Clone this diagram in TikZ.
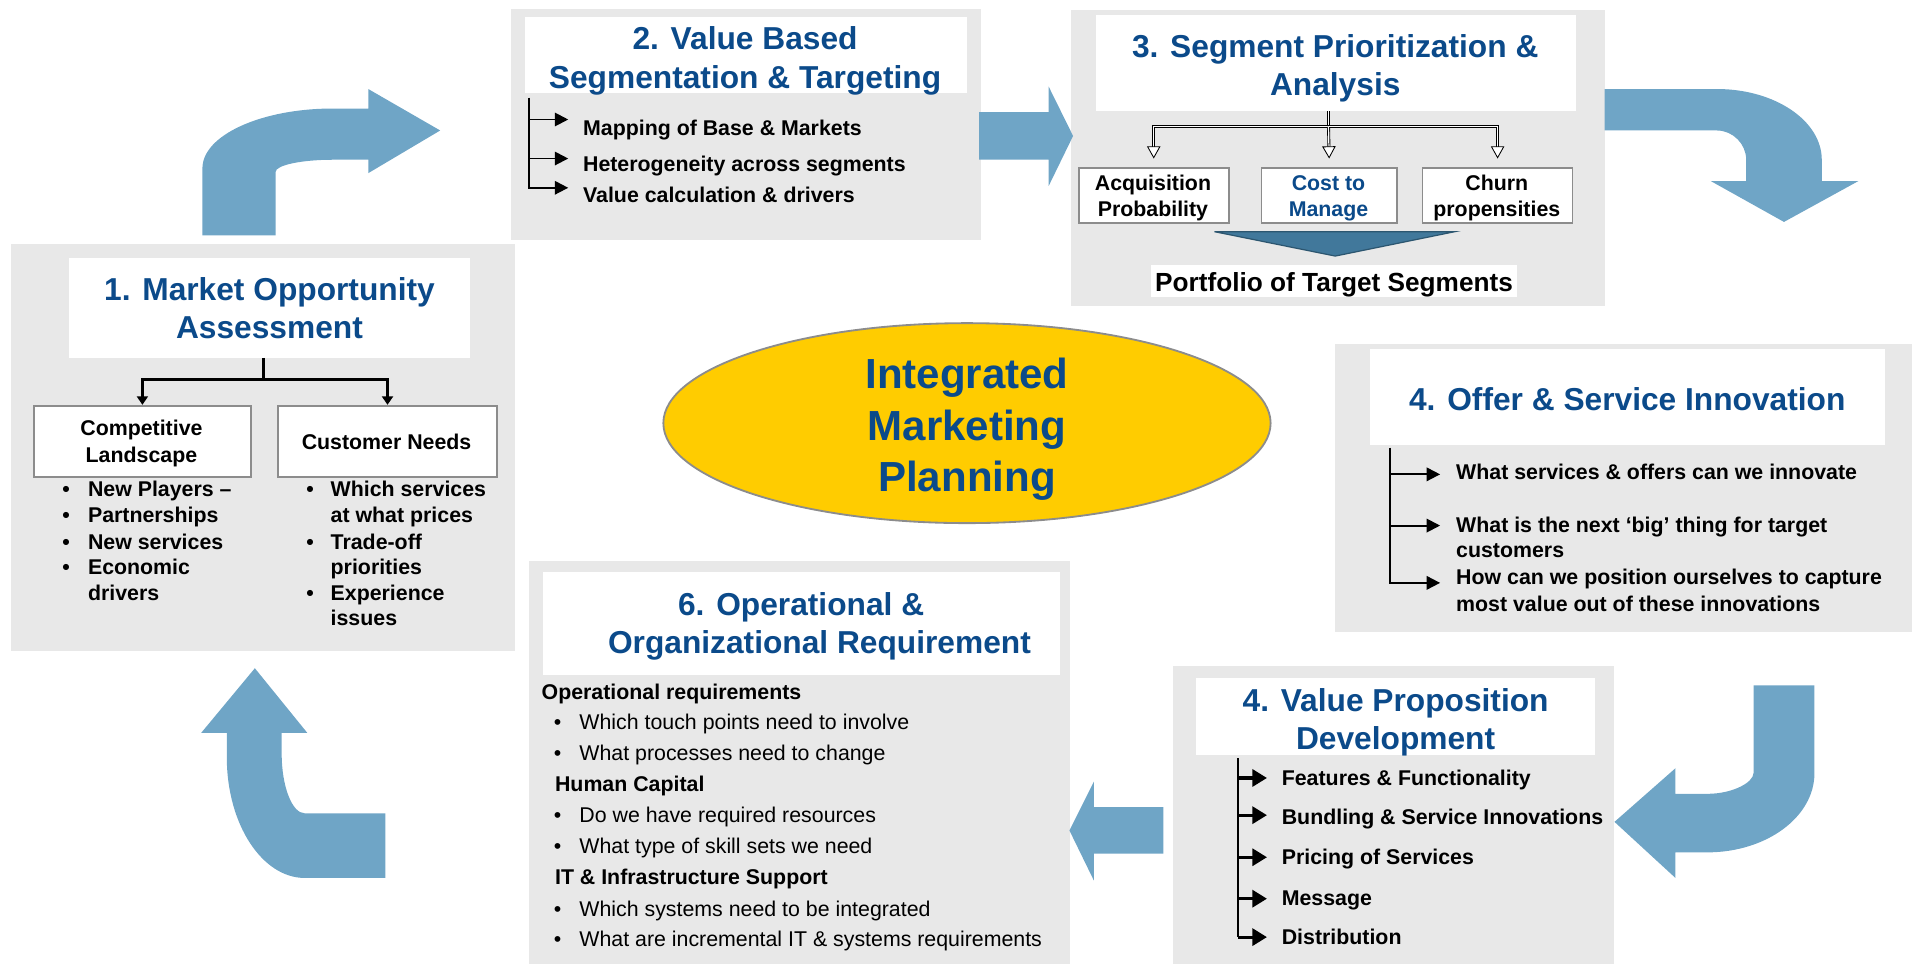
\documentclass[tikz,border=0pt]{standalone}
\usepackage{fontspec}
\setmainfont{Liberation Sans}
\usetikzlibrary{arrows.meta,shapes.geometric}

\definecolor{navyink}{HTML}{0B4A8A}
\definecolor{panelgray}{HTML}{E8E8E8}
\definecolor{flowblue}{HTML}{6FA5C6}
\definecolor{funnelblue}{HTML}{41789B}
\definecolor{funneledge}{HTML}{2C5670}
\definecolor{gold}{HTML}{FFCC00}
\definecolor{rimgray}{HTML}{8C8C8C}

\newcommand{\bulletbox}[1]{\makebox[#1][l]{\textbullet}}

\tikzset{
  panel/.style={fill=panelgray, draw=none, inner sep=0pt, anchor=north west},
  headbox/.style={fill=white, draw=none, inner sep=0pt, anchor=north west},
  subbox/.style={fill=white, draw=rimgray, line width=1.6pt, inner sep=0pt, anchor=north west},
  headtxt/.style={font=\fontsize{26}{31}\selectfont\bfseries, text=navyink, inner sep=0pt, anchor=base},
  hubtxt/.style={font=\fontsize{34.5}{41}\selectfont\bfseries, text=navyink, inner sep=0pt, anchor=base},
  boldc/.style={font=\fontsize{17.5}{21}\selectfont\bfseries, inner sep=0pt, anchor=base},
  boldl/.style={font=\fontsize{17.5}{21}\selectfont\bfseries, inner sep=0pt, anchor=base west},
  plainl/.style={font=\fontsize{17.5}{21}\selectfont, inner sep=0pt, anchor=base west},
  flow/.style={fill=flowblue, draw=none},
  trunk/.style={draw=black, line width=2.2pt},
  trunktip/.style={trunk, -{Triangle[length=7pt,width=9pt]}},
  brk/.style={draw=black, line width=1.6pt},
  brktip/.style={brk, -{Triangle[length=11pt,width=11pt]}},
  fattip/.style={draw=black, line width=2.6pt, -{Triangle[length=12pt,width=14pt]}},
  dbl/.style={draw=black, line width=0.7pt, double=white, double distance=1pt},
  dbltip/.style={dbl, -{Triangle[length=10pt,width=11pt,fill=white]}},
}

\begin{document}
\begin{tikzpicture}[x=1pt,y=-1pt]
\useasboundingbox (0,0) rectangle (1568,790);

% ---------- gray panels ----------
\node[panel, minimum width=413pt, minimum height=334pt] (p1) at (9,200) {};
\node[panel, minimum width=385pt, minimum height=190pt] (p2) at (419,7) {};
\node[panel, minimum width=438pt, minimum height=243pt] (p3) at (878,8) {};
\node[panel, minimum width=473pt, minimum height=236pt] (p4) at (1095,282) {};
\node[panel, minimum width=361pt, minimum height=244pt] (p5) at (962,546) {};
\node[panel, minimum width=443pt, minimum height=330pt] (p6) at (434,460) {};

% ---------- white title boxes ----------
\node[headbox, minimum width=329pt, minimum height=82pt] (t1) at (56,211) {};
\node[headbox, minimum width=363pt, minimum height=62pt] (t2) at (430,14) {};
\node[headbox, minimum width=393pt, minimum height=79pt] (t3) at (899,12) {};
\node[headbox, minimum width=423pt, minimum height=79pt] (t4) at (1123,286) {};
\node[headbox, minimum width=327pt, minimum height=63pt] (t5) at (981,556) {};
\node[headbox, minimum width=424pt, minimum height=84.5pt] (t6) at (445,469) {};

% ---------- central ellipse ----------
\node[ellipse, fill=gold, draw=rimgray, line width=1.5pt, minimum width=498pt, minimum height=164pt, inner sep=0pt] (hub) at (793,347) {};
\node[hubtxt] (hub1) at (793,318.4) {Integrated};
\node[hubtxt] (hub2) at (793,361.4) {Marketing};
\node[hubtxt] (hub3) at (793,403.4) {Planning};

% ---------- big flow arrows ----------
\fill[flow] (166,193) -- (166,138) .. controls (166,111) and (214,89) .. (273,89)
  -- (302,89) -- (302,73) -- (361,107) -- (302,142) -- (302,131) -- (273,131)
  .. controls (247,131) and (226,135.5) .. (226,141) -- (226,193) -- cycle;
\fill[flow] (803,92) -- (860,92) -- (860,71) -- (880,111.5) -- (860,152.5) -- (860,131) -- (803,131) -- cycle;
\fill[flow] (1316,73) -- (1408,73) .. controls (1455.5,73) and (1494,99) .. (1494,131)
  -- (1494,148.5) -- (1524,148.5) -- (1463,182) -- (1403,148.5) -- (1432,148.5) -- (1432,131)
  .. controls (1432,118) and (1421,107) .. (1408,107) -- (1316,107) -- cycle;
\fill[flow] (1488,562) -- (1488,634) .. controls (1488,670) and (1448.6,699) .. (1400,699)
  -- (1374,699) -- (1374,720) -- (1324,674) -- (1374,630) -- (1374,651) -- (1400,651)
  .. controls (1421,651) and (1438,641.6) .. (1438,634) -- (1438,562) -- cycle;
\fill[flow] (954,662) -- (897,662) -- (897,641) -- (877,681) -- (897,722) -- (897,700) -- (954,700) -- cycle;
\fill[flow] (316,667) -- (250,667) .. controls (239.5,667) and (231,645) .. (231,618)
  -- (231,601) -- (252,601) -- (209,548) -- (165,601) -- (186,601) -- (186,621)
  .. controls (186,676) and (215,720) .. (250,720) -- (316,720) -- cycle;

% ---------- 1. Market Opportunity Assessment ----------
\node[headtxt] (h1a) at (221,246.4) {1. Market Opportunity};
\node[headtxt] (h1b) at (221,277.4) {Assessment};
\node[subbox, minimum width=178pt, minimum height=58pt] (s1a) at (27,332) {};
\node[subbox, minimum width=180pt, minimum height=58pt] (s1b) at (227,332) {};
\node[boldc] (s1a1) at (116,357.3) {Competitive};
\node[boldc] (s1a2) at (116,379.3) {Landscape};
\node[boldc] (s1b1) at (317,368.3) {Customer Needs};
\coordinate (j1) at (216,311);
\draw[trunk] (t1.south -| j1) -- (j1);
\draw[trunktip] (j1) -| (s1a.north);
\draw[trunktip] (j1) -| (s1b.north);
\node[boldl] (l1a) at (51,407.3) {\bulletbox{21pt}New Players –};
\node[boldl] (l1b) at (51,428.8) {\bulletbox{21pt}Partnerships};
\node[boldl] (l1c) at (51,450.3) {\bulletbox{21pt}New services};
\node[boldl] (l1d) at (51,471.3) {\bulletbox{21pt}Economic};
\node[boldl] (l1e) at (72,492.3) {drivers};
\node[boldl] (r1a) at (251,407.3) {\bulletbox{20pt}Which services};
\node[boldl] (r1b) at (271,428.8) {at what prices};
\node[boldl] (r1c) at (251,450.3) {\bulletbox{20pt}Trade-off};
\node[boldl] (r1d) at (271,471.3) {priorities};
\node[boldl] (r1e) at (251,492.3) {\bulletbox{20pt}Experience};
\node[boldl] (r1f) at (271,512.8) {issues};

% ---------- 2. Value Based Segmentation & Targeting ----------
\node[headtxt] (h2a) at (611,41) {2. Value Based};
\node[headtxt] (h2b) at (611,72.4) {Segmentation \& Targeting};
\coordinate (k2top) at (434,80);
\coordinate (k2a) at (466,98);
\coordinate (k2b) at (466,130);
\coordinate (k2c) at (466,154);
\draw[brktip] (k2top) |- (k2c);
\draw[brktip] (k2top |- k2a) -- (k2a);
\draw[brktip] (k2top |- k2b) -- (k2b);
\node[boldl] (i2a) at (478,111.3) {Mapping of Base \& Markets};
\node[boldl] (i2b) at (478,140.3) {Heterogeneity across segments};
\node[boldl] (i2c) at (478,166.3) {Value calculation \& drivers};

% ---------- 3. Segment Prioritization & Analysis ----------
\node[headtxt] (h3a) at (1095,47.4) {3. Segment Prioritization \&};
\node[headtxt] (h3b) at (1095,78.4) {Analysis};
\node[subbox, line width=1.3pt, minimum width=123pt, minimum height=45pt] (s3a) at (884,137) {};
\node[subbox, line width=1.3pt, minimum width=111pt, minimum height=45pt] (s3b) at (1034,137) {};
\node[subbox, line width=1.3pt, minimum width=123pt, minimum height=45pt] (s3c) at (1166,137) {};
\node[boldc] (s3a1) at (945.5,156.3) {Acquisition};
\node[boldc] (s3a2) at (945.5,177.3) {Probability};
\node[boldc, text=navyink] (s3b1) at (1089.5,156.3) {Cost to};
\node[boldc, text=navyink] (s3b2) at (1089.5,177.3) {Manage};
\node[boldc] (s3c1) at (1227.5,156.3) {Churn};
\node[boldc] (s3c2) at (1227.5,177.3) {propensities};
\coordinate (j3) at (1089.5,104);
\draw[dbl] (t3.south -| j3) -- (j3);
\draw[dbltip, shorten >=7pt] (j3) -| (s3a.north);
\draw[dbltip, shorten >=7pt] (j3) -- (s3b.north);
\draw[dbltip, shorten >=7pt] (j3) -| (s3c.north);
\draw[fill=funnelblue, draw=funneledge, line width=1pt] (996,190) -- (1193,190) -- (1095,210) -- cycle;
\node[headbox, minimum width=300pt, minimum height=26pt] (pf) at (944,217.5) {};
\node[font=\fontsize{21.5}{25}\selectfont\bfseries, inner sep=0pt, anchor=base] (pft) at (1094,238.7) {Portfolio of Target Segments};

% ---------- 4. Offer & Service Innovation ----------
\node[headtxt] (h4) at (1334.5,336.4) {4. Offer \& Service Innovation};
\coordinate (k4top) at (1140,367);
\coordinate (k4a) at (1181,389);
\coordinate (k4b) at (1181,431);
\coordinate (k4c) at (1181,478);
\draw[brktip] (k4top) |- (k4c);
\draw[brktip] (k4top |- k4a) -- (k4a);
\draw[brktip] (k4top |- k4b) -- (k4b);
\node[boldl] (i4a) at (1194,393.3) {What services \& offers can we innovate};
\node[boldl] (i4b) at (1194,436.3) {What is the next ‘big’ thing for target};
\node[boldl] (i4c) at (1194,457.3) {customers};
\node[boldl] (i4d) at (1194,479.3) {How can we position ourselves to capture};
\node[boldl] (i4e) at (1194,501.3) {most value out of these innovations};

% ---------- 4. Value Proposition Development ----------
\node[headtxt] (h5a) at (1144.5,583.4) {4. Value Proposition};
\node[headtxt] (h5b) at (1144.5,614.4) {Development};
\coordinate (k5top) at (1015,622);
\coordinate (k5a) at (1039,638);
\coordinate (k5b) at (1039,668.5);
\coordinate (k5c) at (1039,703);
\coordinate (k5d) at (1039,737);
\coordinate (k5e) at (1039,768.5);
\draw[brk] (k5top) -- (k5top |- k5e);
\draw[fattip] (k5top |- k5a) -- (k5a);
\draw[fattip] (k5top |- k5b) -- (k5b);
\draw[fattip] (k5top |- k5c) -- (k5c);
\draw[fattip] (k5top |- k5d) -- (k5d);
\draw[fattip] (k5top |- k5e) -- (k5e);
\node[boldl] (i5a) at (1051,644.3) {Features \& Functionality};
\node[boldl] (i5b) at (1051,676.3) {Bundling \& Service Innovations};
\node[boldl] (i5c) at (1051,709.3) {Pricing of Services};
\node[boldl] (i5d) at (1051,742.8) {Message};
\node[boldl] (i5e) at (1051,774.8) {Distribution};

% ---------- 6. Operational & Organizational Requirement ----------
\node[headtxt] (h6a) at (657,504.4) {6. Operational \&};
\node[headtxt] (h6b) at (672,536) {Organizational Requirement};
\node[boldl] (g6a) at (444,573.3) {Operational requirements};
\node[plainl] (q6a) at (454,598.3) {\bulletbox{21pt}Which touch points need to involve};
\node[plainl] (q6b) at (454,623.8) {\bulletbox{21pt}What processes need to change};
\node[boldl] (g6b) at (455,649.3) {Human Capital};
\node[plainl] (q6c) at (454,674.3) {\bulletbox{21pt}Do we have required resources};
\node[plainl] (q6d) at (454,700.3) {\bulletbox{21pt}What type of skill sets we need};
\node[boldl] (g6c) at (455,725.3) {IT \& Infrastructure Support};
\node[plainl] (q6e) at (454,751.3) {\bulletbox{21pt}Which systems need to be integrated};
\node[plainl] (q6f) at (454,776.3) {\bulletbox{21pt}What are incremental IT \& systems requirements};

\end{tikzpicture}
\end{document}
